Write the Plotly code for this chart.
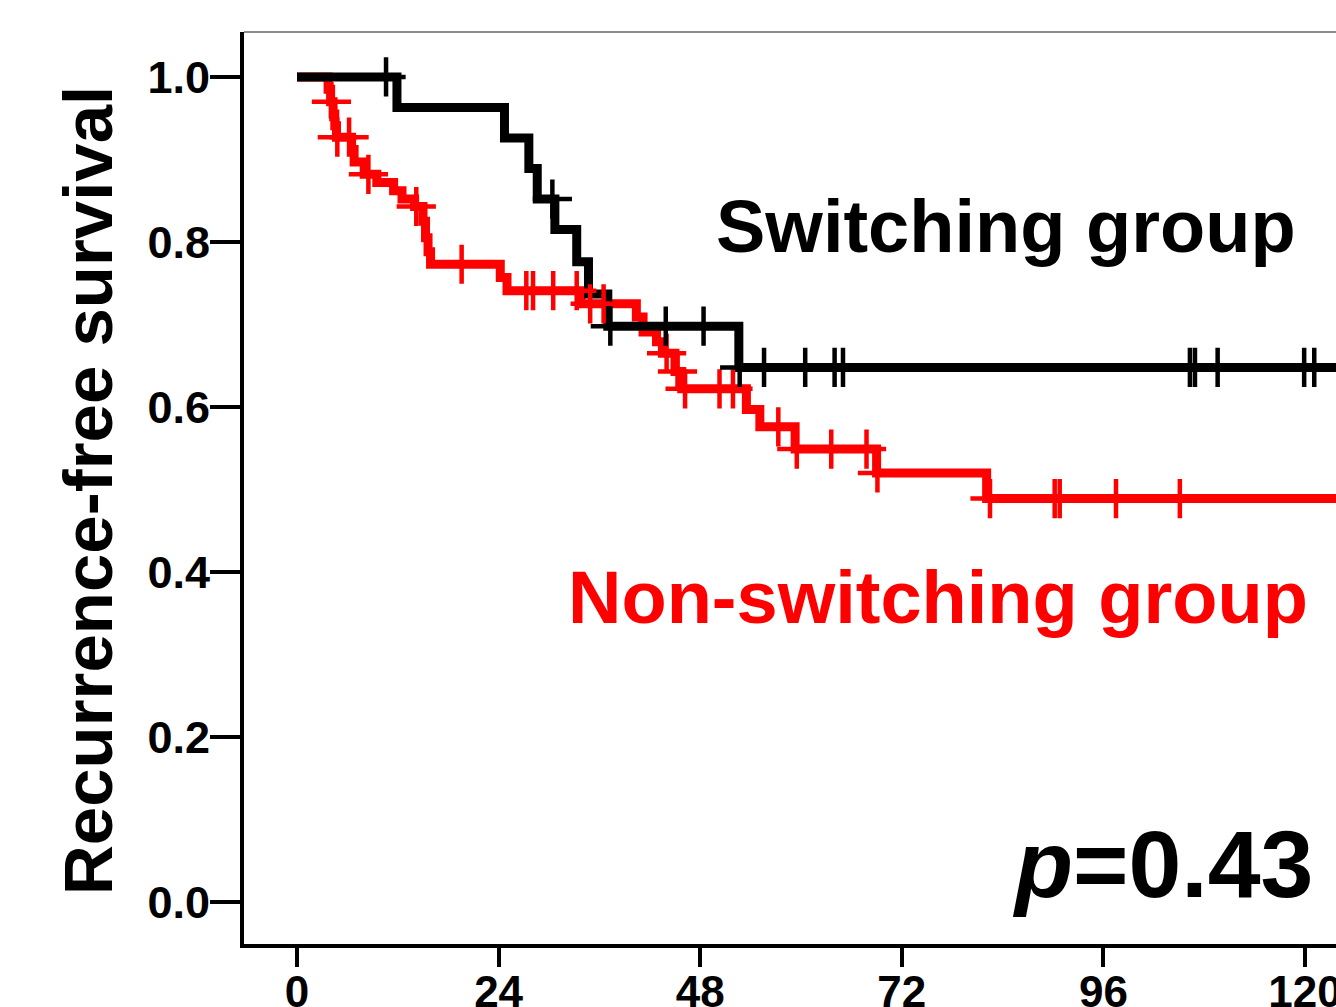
import numpy as np
import plotly.graph_objects as go

# ---------------- data ----------------
# Switching group (black): event times (months) and survival after each step
sw_time = [0, 11.9, 24.7, 27.6, 28.6, 30.7, 33.3, 34.7, 37.0, 52.6, 125.0]
sw_surv = [1.0, 0.963, 0.926, 0.889, 0.852, 0.815, 0.776, 0.737, 0.698, 0.648, 0.648]
sw_censor = [10.6, 30.4, 37.3, 43.9, 48.4, 52.7, 55.6, 60.5, 64.0, 65.0,
             106.3, 106.9, 109.6, 119.9, 121.1]

# Non-switching group (red)
ns_time = [0, 3.7, 4.0, 4.3, 4.5, 4.7, 6.5, 6.8, 8.0, 9.5, 11.5, 12.5, 14.0,
           15.0, 15.3, 15.6, 15.9, 24.2, 25.0, 33.8, 40.4, 41.2, 42.8, 43.5,
           45.0, 45.8, 53.5, 55.1, 59.3, 69.0, 82.1, 125.0]
ns_surv = [1.0, 0.985, 0.970, 0.955, 0.941, 0.927, 0.912, 0.897, 0.882, 0.872,
           0.862, 0.852, 0.843, 0.825, 0.805, 0.788, 0.773, 0.757, 0.741, 0.725,
           0.709, 0.691, 0.679, 0.665, 0.643, 0.622, 0.597, 0.576, 0.549, 0.520,
           0.489, 0.489]
ns_censor = [4.1, 4.8, 6.2, 8.5, 14.2, 19.6, 27.3, 28.1, 30.5, 33.3, 34.9, 36.5,
             44.0, 45.3, 46.2, 50.3, 51.9, 57.3, 59.5, 63.6, 67.8, 69.1, 82.5,
             90.2, 90.8, 97.5, 105.1]

x_ticks = [0, 24, 48, 72, 96, 120]
y_ticks = [0.0, 0.2, 0.4, 0.6, 0.8, 1.0]
y_ticktext = ["0.0", "0.2", "0.4", "0.6", "0.8", "1.0"]

labels = {"sw": "Switching group", "ns": "Non-switching group"}
p_text = "<i>p</i>=0.43"
y_title = "Recurrence-free survival"


def surv_at(times, surv, c):
    idx = np.searchsorted(np.array(times), np.array(c), side="right") - 1
    return list(np.array(surv)[idx])


FONT = "Arial, Liberation Sans, sans-serif"
fig = go.Figure()

groups = [
    ("ns", ns_time, ns_surv, ns_censor, "#ff0000"),
    ("sw", sw_time, sw_surv, sw_censor, "#000000"),
]
for key, t, s, c, col in groups:
    fig.add_trace(go.Scatter(x=t, y=s, mode="lines", line=dict(color=col, width=9, shape="hv"),
                             showlegend=False, hoverinfo="skip"))
for key, t, s, c, col in groups:
    fig.add_trace(go.Scatter(x=c, y=surv_at(t, s, c), mode="markers",
                             marker=dict(symbol="cross-thin", size=28,
                                         line=dict(color=col, width=4.5)),
                             showlegend=False, hoverinfo="skip"))

# plot area in pixels: x 244..1336, y 32..944
def px(x):
    return (x - 244) / 1092.0

def py(y):
    return 1 - (y - 32) / 912.0

annotations = [
    dict(text=labels["sw"], x=px(1298), y=py(226), xanchor="right", yanchor="middle",
         font=dict(family=FONT, size=74, color="#000000", weight="bold")),
    dict(text=labels["ns"], x=px(1310), y=py(597), xanchor="right", yanchor="middle",
         font=dict(family=FONT, size=74, color="#ff0000", weight="bold")),
    dict(text=p_text, x=px(1315), y=py(864), xanchor="right", yanchor="middle",
         font=dict(family=FONT, size=95, color="#000000", weight="bold")),
    dict(text=y_title, x=px(88), y=py(491), xanchor="center", yanchor="middle",
         textangle=-90, font=dict(family=FONT, size=69, color="#000000", weight="bold")),
]
for a in annotations:
    a.update(xref="paper", yref="paper", showarrow=False)

fig.update_layout(
    width=1336, height=1007,
    margin=dict(l=244, r=0, t=32, b=63, pad=0, autoexpand=False),
    paper_bgcolor="white", plot_bgcolor="white",
    annotations=annotations,
    shapes=[dict(type="line", xref="paper", yref="paper", x0=0, x1=1, y0=1, y1=1,
                 line=dict(color="#8c8c8c", width=2))],
    xaxis=dict(range=[-6.31, 123.69], tickvals=x_ticks, ticks="outside", ticklen=19,
               tickwidth=4, tickcolor="black", showline=True, linewidth=4, linecolor="black",
               showgrid=False, zeroline=False, automargin=False,
               ticklabelstandoff=-13, ticklabeloverflow="allow",
               tickfont=dict(family=FONT, size=44, color="black", weight="bold")),
    yaxis=dict(range=[-0.0509, 1.0545], tickvals=y_ticks, ticktext=y_ticktext, ticks="outside",
               ticklen=30, tickwidth=4, tickcolor="black", showline=True, linewidth=4,
               linecolor="black", showgrid=False, zeroline=False, automargin=False,
               ticklabelstandoff=-9, ticklabeloverflow="allow",
               tickfont=dict(family=FONT, size=45, color="black", weight="bold")),
)

fig.write_html("out.html", config={"displayModeBar": False},
               post_script="document.body.style.margin='0';document.body.style.overflow='hidden';")
